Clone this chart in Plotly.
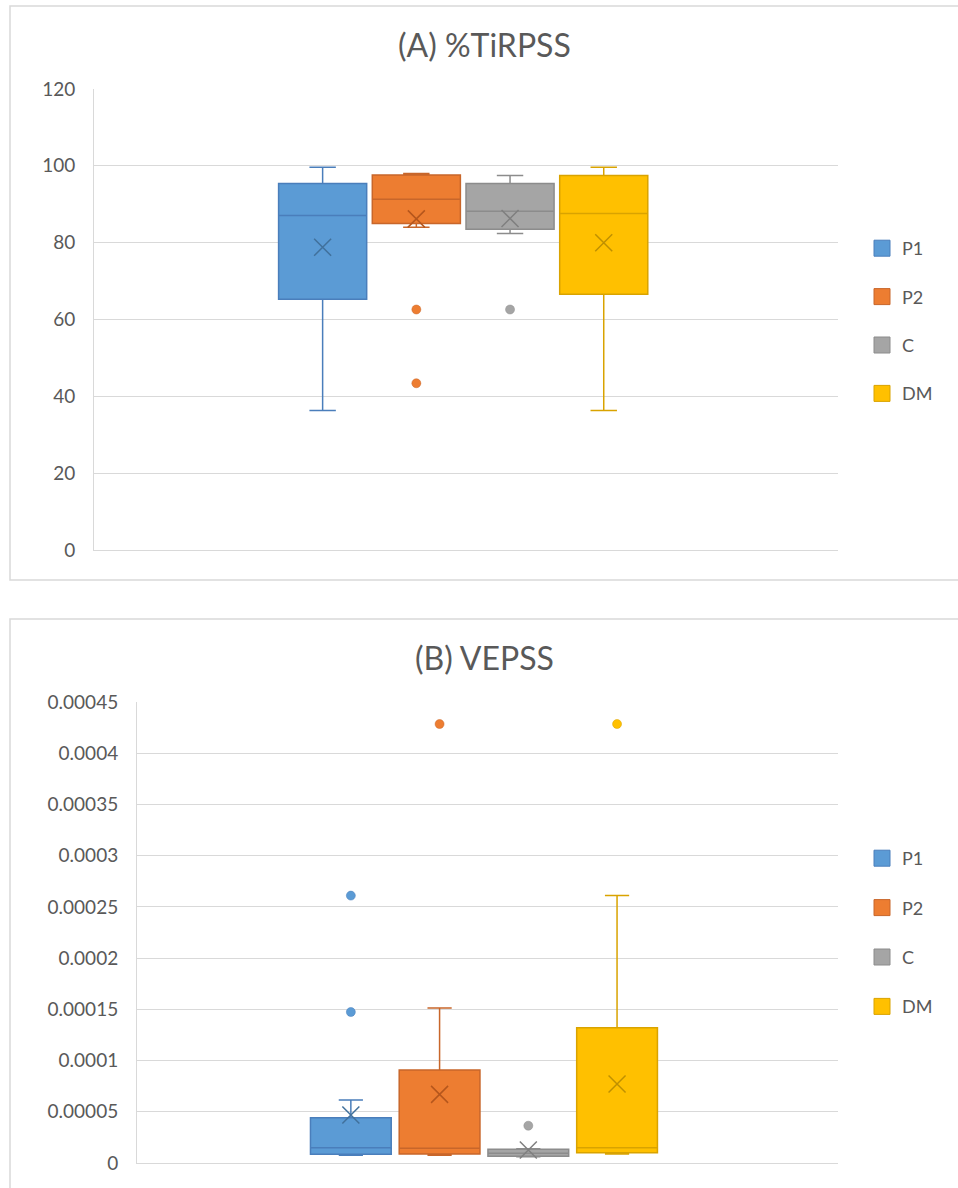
import plotly.graph_objects as go

# Series shared by both panels
series = ["P1", "P2", "C", "DM"]
fill_colors = ["#5B9BD5", "#ED7D31", "#A5A5A5", "#FFC000"]
edge_colors = ["#4A7EBB", "#C8662A", "#8C8C8C", "#D9A300"]
mean_colors = ["#41719C", "#B5561C", "#7F7F7F", "#BF9000"]

# (A) %TiRPSS box statistics
a_q1 = [65.3, 85.0, 83.5, 66.6]
a_median = [87.1, 91.3, 88.2, 87.6]
a_q3 = [95.4, 97.6, 95.4, 97.5]
a_low = [36.3, 84.0, 82.4, 36.3]
a_high = [99.6, 98.0, 97.5, 99.6]
a_mean = [78.8, 86.2, 86.3, 80.0]
a_outliers = [[], [62.6, 43.4], [62.6], []]
a_ticks = [0, 20, 40, 60, 80, 100, 120]

# (B) VEPSS box statistics
b_q1 = [8.5e-6, 8.8e-6, 6.5e-6, 1.0e-5]
b_median = [1.49e-5, 1.43e-5, 9.5e-6, 1.49e-5]
b_q3 = [4.42e-5, 9.08e-5, 1.34e-5, 1.32e-4]
b_low = [7.5e-6, 7.5e-6, 6.0e-6, 8.8e-6]
b_high = [6.15e-5, 1.513e-4, 1.4e-5, 2.61e-4]
b_mean = [4.69e-5, 6.7e-5, 1.27e-5, 7.71e-5]
b_outliers = [[2.61e-4, 1.474e-4], [4.285e-4], [3.64e-5], [4.285e-4]]
b_ticks = [0, 0.00005, 0.0001, 0.00015, 0.0002, 0.00025, 0.0003, 0.00035, 0.0004, 0.00045]
b_ticktext = ["0", "0.00005", "0.0001", "0.00015", "0.0002", "0.00025",
              "0.0003", "0.00035", "0.0004", "0.00045"]

W, H = 958, 1188
FONT = "Lato"
TEXT = "#595959"
GRID = "#D9D9D9"

fig = go.Figure()


def add_panel(q1, med, q3, low, high, mean, outliers, xa, ya, legend, box_w):
    for i, name in enumerate(series):
        fig.add_trace(go.Box(
            x=[i], q1=[q1[i]], median=[med[i]], q3=[q3[i]],
            lowerfence=[low[i]], upperfence=[high[i]],
            width=box_w, whiskerwidth=0.3, boxpoints=False,
            fillcolor=fill_colors[i],
            line=dict(color=edge_colors[i], width=1.5),
            name=name, showlegend=False, hoverinfo="skip",
            xaxis=xa, yaxis=ya,
        ))
        fig.add_trace(go.Scatter(
            x=[i], y=[mean[i]], mode="markers",
            marker=dict(symbol="x-thin-open", size=17, color=mean_colors[i],
                        line=dict(color=mean_colors[i], width=1.5)),
            showlegend=False, hoverinfo="skip", xaxis=xa, yaxis=ya,
        ))
        if outliers[i]:
            fig.add_trace(go.Scatter(
                x=[i] * len(outliers[i]), y=outliers[i], mode="markers",
                marker=dict(symbol="circle", size=9, color=fill_colors[i],
                            line=dict(color=edge_colors[i], width=0.5)),
                showlegend=False, hoverinfo="skip", xaxis=xa, yaxis=ya,
            ))
        # legend swatch
        fig.add_trace(go.Scatter(
            x=[None], y=[None], mode="markers", name=name,
            marker=dict(symbol="square", size=16, color=fill_colors[i],
                        line=dict(color=edge_colors[i], width=1)),
            legendgroup=f"{legend}-{name}", legend=legend,
            xaxis=xa, yaxis=ya,
        ))


add_panel(a_q1, a_median, a_q3, a_low, a_high, a_mean, a_outliers,
          "x", "y", "legend", 0.94)
add_panel(b_q1, b_median, b_q3, b_low, b_high, b_mean, b_outliers,
          "x2", "y2", "legend2", 0.91)


def px_x(v):
    return v / W


def px_y(v):
    return 1 - v / H


axis_common = dict(showgrid=False, zeroline=False, showticklabels=False,
                   showline=True, linecolor=GRID, linewidth=1, fixedrange=True,
                   automargin=False)
yaxis_common = dict(showgrid=True, gridcolor=GRID, gridwidth=1, zeroline=False,
                    showline=True, linecolor=GRID, linewidth=1, ticks="",
                    ticklabelstandoff=14, automargin=False,
                    tickfont=dict(family=FONT, size=19, color=TEXT))

legend_common = dict(font=dict(family=FONT, size=18, color=TEXT),
                     bgcolor="rgba(0,0,0,0)",
                     itemsizing="trace", xanchor="left", yanchor="top")

fig.update_layout(
    width=W, height=H,
    margin=dict(l=0, r=0, t=0, b=0, autoexpand=False),
    paper_bgcolor="white", plot_bgcolor="white",
    boxmode="overlay",
    xaxis=dict(domain=[px_x(94), px_x(838)], range=[-2.44, 5.50],
               anchor="y", **axis_common),
    yaxis=dict(domain=[px_y(550), px_y(89)], range=[0, 120],
               tickvals=a_ticks, anchor="x", **yaxis_common),
    xaxis2=dict(domain=[px_x(137), px_x(838)], range=[-2.41, 5.49],
                anchor="y2", **axis_common),
    yaxis2=dict(domain=[px_y(1163), px_y(702)], range=[0, 0.00045],
                tickvals=b_ticks, ticktext=b_ticktext, anchor="x2",
                **yaxis_common),
    legend=dict(x=px_x(862), y=px_y(230), tracegroupgap=22, **legend_common),
    legend2=dict(x=px_x(862), y=px_y(840), tracegroupgap=23, **legend_common),
    font=dict(family=FONT, color=TEXT),
    showlegend=True,
)

# Chart frames
frame = dict(type="rect", xref="paper", yref="paper",
             line=dict(color=GRID, width=1.5), fillcolor="rgba(0,0,0,0)",
             layer="below")
fig.add_shape(x0=px_x(10), x1=1.02, y0=px_y(580), y1=px_y(6), **frame)
fig.add_shape(x0=px_x(10), x1=1.02, y0=-0.02, y1=px_y(619), **frame)

# Panel titles
for text, ypx in [("(A) %TiRPSS", 45), ("(B) VEPSS", 657)]:
    fig.add_annotation(text=text, x=px_x(485), y=px_y(ypx), xref="paper",
                       yref="paper", xanchor="center", yanchor="middle",
                       showarrow=False,
                       font=dict(family=FONT, size=32, color=TEXT))

fig.write_html("out.html")
